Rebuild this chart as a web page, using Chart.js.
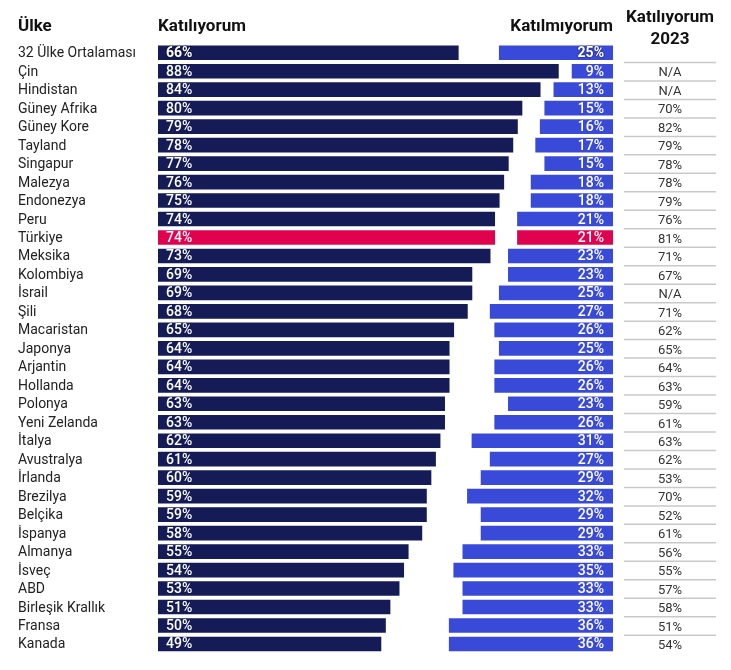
<!DOCTYPE html>
<html>
<head>
<meta charset="utf-8">
<script src="https://cdn.jsdelivr.net/npm/chart.js@4/dist/chart.umd.min.js"></script>
<style>
  body { margin: 0; background: #fff; }
  canvas { display: block; }
</style>
</head>
<body>
<canvas id="chart" width="731" height="670"></canvas>
<script>
// Data
const countries = [
  "32 Ülke Ortalaması", "Çin", "Hindistan", "Güney Afrika", "Güney Kore", "Tayland",
  "Singapur", "Malezya", "Endonezya", "Peru", "Türkiye", "Meksika", "Kolombiya",
  "İsrail", "Şili", "Macaristan", "Japonya", "Arjantin", "Hollanda", "Polonya",
  "Yeni Zelanda", "İtalya", "Avustralya", "İrlanda", "Brezilya", "Belçika",
  "İspanya", "Almanya", "İsveç", "ABD", "Birleşik Krallık", "Fransa", "Kanada"
];
const agree = [66, 88, 84, 80, 79, 78, 77, 76, 75, 74, 74, 73, 69, 69, 68, 65, 64, 64, 64, 63, 63, 62, 61, 60, 59, 59, 58, 55, 54, 53, 51, 50, 49];
const disagree = [25, 9, 13, 15, 16, 17, 15, 18, 18, 21, 21, 23, 23, 25, 27, 26, 25, 26, 26, 23, 26, 31, 27, 29, 32, 29, 29, 33, 35, 33, 33, 36, 36];
const agree2023 = ["", "N/A", "N/A", "70%", "82%", "79%", "78%", "78%", "79%", "76%", "81%", "71%", "67%", "N/A", "71%", "62%", "65%", "64%", "63%", "59%", "61%", "63%", "62%", "53%", "70%", "52%", "61%", "56%", "55%", "57%", "58%", "51%", "54%"];

const highlight = "Türkiye";
const navy = "#141b57";
const blue = "#3a4ad8";
const pink = "#e0024f";

const agreeColors = countries.map((c) => (c === highlight ? pink : navy));
const disagreeColors = countries.map((c) => (c === highlight ? pink : blue));

// Text, headers and the 2023 column
const labelsPlugin = {
  id: "labels",
  afterDraw(chart) {
    const ctx = chart.ctx;
    const yScale = chart.scales.y;
    const agreeMeta = chart.getDatasetMeta(0);
    const disMeta = chart.getDatasetMeta(1);
    const step = yScale.getPixelForValue(1) - yScale.getPixelForValue(0);

    ctx.save();
    // headers
    ctx.fillStyle = "#111";
    ctx.font = "bold 17px Roboto";
    ctx.textBaseline = "middle";
    ctx.textAlign = "left";
    ctx.fillText("Ülke", 18, 27);
    ctx.fillText("Katılıyorum", chart.chartArea.left, 27);
    ctx.textAlign = "right";
    ctx.fillText("Katılmıyorum", chart.chartArea.right, 27);
    ctx.textAlign = "center";
    ctx.fillText("Katılıyorum", 670, 18);
    ctx.fillText("2023", 670, 40);

    countries.forEach((name, i) => {
      const y = yScale.getPixelForValue(i);

      // country name
      ctx.fillStyle = "#222";
      ctx.font = "14px Roboto";
      ctx.textAlign = "left";
      ctx.fillText(name, 18, y + 1);

      // bar values
      const a = agreeMeta.data[i];
      const d = disMeta.data[i];
      ctx.fillStyle = "#fff";
      ctx.font = (i === 0 ? "bold " : "500 ") + "14px Roboto";
      if (i === 0) {
        ctx.shadowColor = "rgba(0,0,0,0.8)";
        ctx.shadowBlur = 2;
      }
      ctx.textAlign = "left";
      ctx.fillText(agree[i] + "%", a.base + 8, y + 1);
      ctx.textAlign = "right";
      ctx.fillText(disagree[i] + "%", d.x - 9, y + 1);
      ctx.shadowBlur = 0;
      ctx.shadowColor = "transparent";

      // 2023 column
      ctx.fillStyle = "#333";
      ctx.font = "13px Roboto";
      ctx.textAlign = "center";
      ctx.fillText(agree2023[i], 670, y + 2);
      if (i < countries.length - 1) {
        const ly = y + step / 2 + 0.5;
        ctx.strokeStyle = "#c9c9c9";
        ctx.lineWidth = 1.5;
        ctx.beginPath();
        ctx.moveTo(624, ly);
        ctx.lineTo(716, ly);
        ctx.stroke();
      }
    });
    ctx.restore();
  },
};

new Chart(document.getElementById("chart"), {
  type: "bar",
  data: {
    labels: countries,
    datasets: [
      {
        label: "Katılıyorum",
        data: agree.map((v) => [0, v]),
        backgroundColor: agreeColors,
        grouped: false,
        barThickness: 14,
      },
      {
        label: "Katılmıyorum",
        data: disagree.map((v) => [100 - v, 100]),
        backgroundColor: disagreeColors,
        grouped: false,
        barThickness: 14,
      },
    ],
  },
  options: {
    indexAxis: "y",
    responsive: false,
    devicePixelRatio: 1,
    animation: false,
    layout: { padding: { left: 158, right: 118, top: 43.5, bottom: 16.8 } },
    scales: {
      x: { display: false, min: 0, max: 100 },
      y: { display: false },
    },
    plugins: {
      legend: { display: false },
      tooltip: { enabled: false },
    },
  },
  plugins: [labelsPlugin],
});
</script>
</body>
</html>
